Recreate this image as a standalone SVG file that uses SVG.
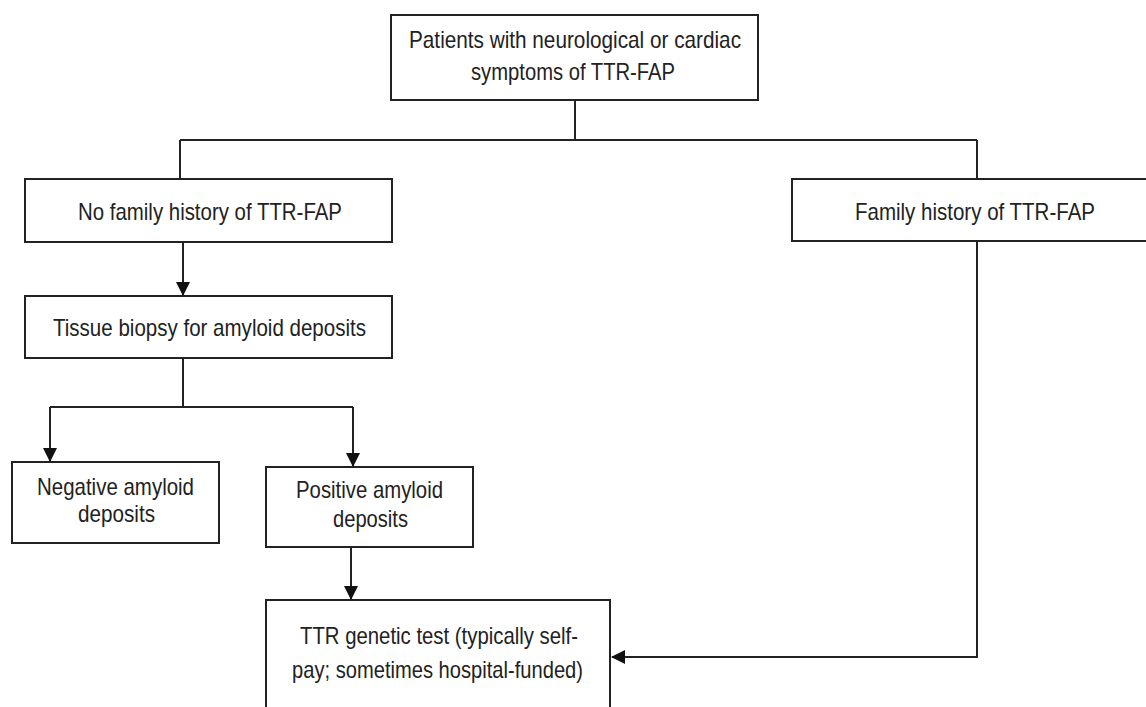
<svg xmlns="http://www.w3.org/2000/svg" width="1146" height="707" viewBox="0 0 1146 707">
<defs>
<style>
.box{fill:#fff;stroke:#222;stroke-width:2}
.lbl{font-family:"Liberation Sans",Arial,sans-serif;font-size:24px;fill:#222;text-anchor:middle}
.con{fill:none;stroke:#222;stroke-width:2}
</style>
<marker id="arr" markerWidth="14" markerHeight="14" refX="13" refY="7" orient="auto" markerUnits="userSpaceOnUse">
<path d="M0,0 L14,7 L0,14 Z" fill="#111"/>
</marker>
</defs>
<rect width="1146" height="707" fill="#fff"/>
<g id="connectors">
<path class="con" d="M575,100 V140"/>
<path class="con" d="M180,140 H977"/>
<path class="con" d="M180,140 V179"/>
<path class="con" d="M977,140 V179"/>
<path class="con" d="M183,242 V295" marker-end="url(#arr)"/>
<path class="con" d="M183,358 V407"/>
<path class="con" d="M50,407 H353"/>
<path class="con" d="M50,407 V461" marker-end="url(#arr)"/>
<path class="con" d="M353,407 V466" marker-end="url(#arr)"/>
<path class="con" d="M351,547 V599" marker-end="url(#arr)"/>
<path class="con" d="M977,241 V657 H612" marker-end="url(#arr)"/>
</g>
<g id="node-patients">
<rect class="box" x="391" y="15" width="367" height="85"/>
<text class="lbl" x="575" y="48" textLength="332" lengthAdjust="spacingAndGlyphs">Patients with neurological or cardiac</text>
<text class="lbl" x="573" y="80" textLength="204" lengthAdjust="spacingAndGlyphs">symptoms of TTR-FAP</text>
</g>
<g id="node-nofamily">
<rect class="box" x="25" y="179" width="367" height="63"/>
<text class="lbl" x="210" y="220" textLength="264" lengthAdjust="spacingAndGlyphs">No family history of TTR-FAP</text>
</g>
<g id="node-family">
<rect class="box" x="792" y="179" width="380" height="62"/>
<text class="lbl" x="975" y="220" textLength="240" lengthAdjust="spacingAndGlyphs">Family history of TTR-FAP</text>
</g>
<g id="node-biopsy">
<rect class="box" x="25" y="296" width="367" height="62"/>
<text class="lbl" x="209.5" y="336" textLength="313" lengthAdjust="spacingAndGlyphs">Tissue biopsy for amyloid deposits</text>
</g>
<g id="node-negative">
<rect class="box" x="12" y="462" width="207" height="81"/>
<text class="lbl" x="115.5" y="495" textLength="157" lengthAdjust="spacingAndGlyphs">Negative amyloid</text>
<text class="lbl" x="116.5" y="522" textLength="77" lengthAdjust="spacingAndGlyphs">deposits</text>
</g>
<g id="node-positive">
<rect class="box" x="266" y="467" width="207" height="80"/>
<text class="lbl" x="369.5" y="498" textLength="147" lengthAdjust="spacingAndGlyphs">Positive amyloid</text>
<text class="lbl" x="370.5" y="527" textLength="75" lengthAdjust="spacingAndGlyphs">deposits</text>
</g>
<g id="node-genetic">
<rect class="box" x="266" y="600" width="344" height="130"/>
<text class="lbl" x="439" y="644" textLength="278" lengthAdjust="spacingAndGlyphs">TTR genetic test (typically self-</text>
<text class="lbl" x="437.5" y="678" textLength="291" lengthAdjust="spacingAndGlyphs">pay; sometimes hospital-funded)</text>
</g>
</svg>
